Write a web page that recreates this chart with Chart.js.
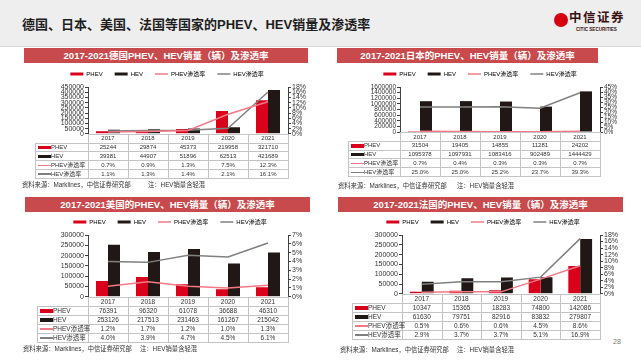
<!DOCTYPE html>
<html lang="zh">
<head>
<meta charset="UTF-8">
<title>PHEV、HEV销量及渗透率</title>
<script src="https://cdn.jsdelivr.net/npm/chart.js"></script>
<style>
  body { margin:0; width:641px; height:361px; background:#fff; position:relative; overflow:hidden;
         font-family:"Liberation Sans","Noto Sans CJK SC",sans-serif; color:#333; }
  .abs { position:absolute; }
  .hdr { left:0; top:0; width:641px; height:46px; background:#eeeeee; border-bottom:1px solid #d6d6d6; }
  .hdr h1 { position:absolute; left:22px; top:17px; margin:0; font-size:13px; line-height:15px; font-weight:bold; color:#1e1e1e; }
  .logo-c { left:554px; top:13px; width:14px; height:14px; border-radius:50%; background:#d7000f; }
  .logo-t { left:569px; top:12px; font-size:12.5px; line-height:13px; font-weight:bold; letter-spacing:1.5px; color:#3a1212; }
  .logo-e { left:576px; top:27px; font-size:4.6px; line-height:5px; font-weight:bold; color:#3a1212; }
  .tbar { background:#c84a4c; color:#fff; font-weight:bold; font-size:9.5px; text-align:center; }
  .ln { position:absolute; background:#c4c4c4; }
  .cell { position:absolute; text-align:center; white-space:nowrap; color:#333; }
  .src { font-size:6.3px; line-height:8px; color:#333; white-space:nowrap; }
</style>
</head>
<body>
<div class="abs hdr"><h1>德国、日本、美国、法国等国家的PHEV、HEV销量及渗透率</h1></div>
<div class="abs logo-c"></div>
<div class="abs logo-t">中信证券</div>
<div class="abs logo-e">CITIC SECURITIES</div>
<div class="abs" style="left:613px;top:338px;font-size:7px;color:#777;">28</div>

<script>
// data
const years = ['2017', '2018', '2019', '2020', '2021'];
const seriesNames = ['PHEV', 'HEV', 'PHEV渗透率', 'HEV渗透率'];

const dePhev = [25244, 29874, 45373, 219958, 321710];
const deHev = [39381, 44907, 51896, 62513, 421689];
const dePhevRate = [0.7, 0.9, 1.3, 7.5, 12.3];
const deHevRate = [1.1, 1.3, 1.4, 2.1, 16.1];

const jpPhev = [31504, 19405, 14855, 11281, 24202];
const jpHev = [1095378, 1097931, 1083416, 902489, 1444429];
const jpPhevRate = [0.7, 0.4, 0.3, 0.3, 0.7];
const jpHevRate = [25.0, 25.0, 25.2, 23.7, 39.3];

const usPhev = [76391, 96320, 61078, 36688, 46310];
const usHev = [253126, 217513, 231463, 161267, 215042];
const usPhevRate = [1.2, 1.7, 1.2, 1.0, 1.3];
const usHevRate = [4.0, 3.9, 4.7, 4.5, 6.1];

const frPhev = [10347, 15365, 18283, 74800, 142086];
const frHev = [61630, 79751, 82916, 83832, 279807];
const frPhevRate = [0.5, 0.6, 0.6, 4.5, 8.6];
const frHevRate = [2.9, 3.7, 3.7, 5.1, 16.9];

// axis ranges [max, step]
const deCountAxis = [450000, 50000], deRateAxis = [18, 2];
const jpCountAxis = [1600000, 200000], jpRateAxis = [45, 5];
const usCountAxis = [300000, 50000], usRateAxis = [7, 1];
const frCountAxis = [300000, 50000], frRateAxis = [18, 2];

const sourceText = '资料来源：Marklines，中信证券研究部';
const noteText = '注：HEV销量含轻混';

const RED = '#d9001b', BLACK = '#211714', PINK = '#f27a86', GRAY = '#808080';
const FONT = '"Liberation Sans","Noto Sans CJK SC",sans-serif';
Chart.defaults.font.family = FONT;
Chart.defaults.color = '#333';

const panels = [
  { title: '2017-2021德国PHEV、HEV销量（辆）及渗透率', bar: [24, 48, 284, 15],
    cv: [22, 59, 290, 80], leftW: 66, rightW: 24, count: deCountAxis, rate: deRateAxis, tick: 7,
    tb: { left: 35, rowH: 8.8, font: 6 }, src: [22, 181, 148],
    series: [dePhev, deHev, dePhevRate, deHevRate] },
  { title: '2017-2021日本的PHEV、HEV销量（辆）及渗透率', bar: [337, 48, 261, 15],
    cv: [335, 59, 290, 78], leftW: 65, rightW: 25, count: jpCountAxis, rate: jpRateAxis, tick: 6.5,
    tb: { left: 348, rowH: 8.8, font: 6 }, src: [338, 182, 457],
    series: [jpPhev, jpHev, jpPhevRate, jpHevRate] },
  { title: '2017-2021美国的PHEV、HEV销量（辆）及渗透率', bar: [25, 197, 285, 15],
    cv: [25, 207, 290, 95], leftW: 63, rightW: 27, count: usCountAxis, rate: usRateAxis, tick: 7,
    tb: { left: 37, rowH: 9, font: 6.5 }, src: [23, 345, 140],
    series: [usPhev, usHev, usPhevRate, usHevRate] },
  { title: '2017-2021法国的PHEV、HEV销量（辆）及渗透率', bar: [338, 197, 285, 15],
    cv: [338, 207, 290, 92], leftW: 64, rightW: 28, count: frCountAxis, rate: frRateAxis, tick: 7,
    tb: { left: 352, rowH: 9, font: 6.5 }, src: [340, 346, 457],
    series: [frPhev, frHev, frPhevRate, frHevRate] }
];

const seriesStyle = [
  { type: 'bar', color: RED },
  { type: 'bar', color: BLACK },
  { type: 'line', color: PINK },
  { type: 'line', color: GRAY }
];

function el(tag, cls, css, text) {
  const d = document.createElement(tag);
  if (cls) d.className = cls;
  Object.assign(d.style, css);
  if (text !== undefined) d.textContent = text;
  document.body.appendChild(d);
  return d;
}

function drawPanel(p) {
  // title bar
  el('div', 'abs tbar', { left: p.bar[0] + 'px', top: p.bar[1] + 'px', width: p.bar[2] + 'px',
    height: p.bar[3] + 'px', lineHeight: p.bar[3] + 'px' }, p.title);

  const cv = el('canvas', 'abs', { left: p.cv[0] + 'px', top: p.cv[1] + 'px' });
  cv.width = p.cv[2]; cv.height = p.cv[3];

  const datasets = p.series.map((data, i) => {
    const st = seriesStyle[i];
    if (st.type === 'bar') {
      return { type: 'bar', label: seriesNames[i], data, backgroundColor: st.color, yAxisID: 'y',
               order: 2, categoryPercentage: 0.6, barPercentage: 1 };
    }
    return { type: 'line', label: seriesNames[i], data, borderColor: st.color, backgroundColor: st.color,
             borderWidth: 1.5, pointRadius: 0, tension: 0, yAxisID: 'y1', order: 1 };
  });

  const tickFont = { size: p.tick };
  const chart = new Chart(cv, {
    type: 'bar',
    data: { labels: years, datasets },
    options: {
      responsive: false, animation: false, devicePixelRatio: 1,
      layout: { padding: { left: 0, right: 0, top: 0, bottom: 5 } },
      plugins: {
        tooltip: { enabled: false },
        legend: {
          position: 'top',
          labels: {
            usePointStyle: true, pointStyleWidth: 13, boxHeight: 3, padding: 12,
            font: { size: 6 }, color: '#333',
            generateLabels: c => c.data.datasets.map((d, i) => ({
              text: d.label, datasetIndex: i, hidden: false,
              fillStyle: d.type === 'line' ? d.borderColor : d.backgroundColor,
              strokeStyle: d.type === 'line' ? d.borderColor : d.backgroundColor,
              lineWidth: d.type === 'line' ? 1.5 : 0,
              pointStyle: d.type === 'line' ? 'line' : 'rect'
            }))
          }
        }
      },
      scales: {
        x: { display: false, offset: true },
        y: {
          position: 'left', min: 0, max: p.count[0],
          ticks: { stepSize: p.count[1], autoSkip: false, font: tickFont, color: '#333', padding: 1,
                   callback: v => String(v) },
          grid: { drawOnChartArea: false, tickLength: 3, color: '#404040' },
          border: { color: '#404040' },
          afterFit: s => { s.width = p.leftW; }
        },
        y1: {
          position: 'right', min: 0, max: p.rate[0],
          ticks: { stepSize: p.rate[1], autoSkip: false, font: tickFont, color: '#333', padding: 1,
                   callback: v => v + '%' },
          grid: { drawOnChartArea: false, tickLength: 3, color: '#404040' },
          border: { color: '#404040' },
          afterFit: s => { s.width = p.rightW; }
        }
      }
    }
  });

  // data table under the plot, columns taken from the chart's own x scale
  const area = chart.chartArea;
  const x0 = p.cv[0] + area.left, x1 = p.cv[0] + area.right;
  const top = p.cv[1] + area.bottom;
  const colW = (area.right - area.left) / years.length;
  const rh = p.tb.rowH, tl = p.tb.left;
  const rows = 5;

  // horizontal rules
  for (let r = 0; r <= rows; r++) {
    const from = r === 0 ? x0 : tl;
    el('div', 'ln', { left: from + 'px', top: (top + r * rh) + 'px', width: (x1 - from + 1) + 'px', height: '1px' });
  }
  // vertical rules
  el('div', 'ln', { left: tl + 'px', top: (top + rh) + 'px', width: '1px', height: (rh * (rows - 1)) + 'px' });
  for (let c = 0; c <= years.length; c++) {
    el('div', 'ln', { left: (x0 + c * colW) + 'px', top: top + 'px', width: '1px', height: (rh * rows) + 'px' });
  }

  const cellCss = (r, left, w) => ({ left: left + 'px', top: (top + r * rh + 0.5) + 'px', width: w + 'px',
    height: rh + 'px', lineHeight: rh + 'px', fontSize: p.tb.font + 'px' });

  years.forEach((y, c) => {
    const cx = p.cv[0] + chart.scales.x.getPixelForValue(c);
    el('div', 'cell', cellCss(0, cx - colW / 2, colW), y);
  });

  p.series.forEach((data, i) => {
    const r = i + 1;
    const st = seriesStyle[i];
    // key
    const keyCss = { left: (tl + 3) + 'px', width: '13px', background: st.color };
    if (st.type === 'bar') {
      keyCss.top = (top + r * rh + rh / 2 - 1.2) + 'px'; keyCss.height = '3.5px';
    } else {
      keyCss.top = (top + r * rh + rh / 2) + 'px'; keyCss.height = '1.5px';
    }
    el('div', 'abs', keyCss);
    const lab = el('div', 'cell', cellCss(r, tl + 16, x0 - tl - 16), seriesNames[i]);
    lab.style.textAlign = 'left';
    data.forEach((v, c) => {
      const cx = p.cv[0] + chart.scales.x.getPixelForValue(c);
      const txt = st.type === 'bar' ? String(v) : v.toFixed(1) + '%';
      el('div', 'cell', cellCss(r, cx - colW / 2, colW), txt);
    });
  });

  // source note
  el('div', 'abs src', { left: p.src[0] + 'px', top: p.src[1] + 'px' }, sourceText);
  el('div', 'abs src', { left: p.src[2] + 'px', top: p.src[1] + 'px' }, noteText);
}

panels.forEach(drawPanel);
</script>
</body>
</html>
